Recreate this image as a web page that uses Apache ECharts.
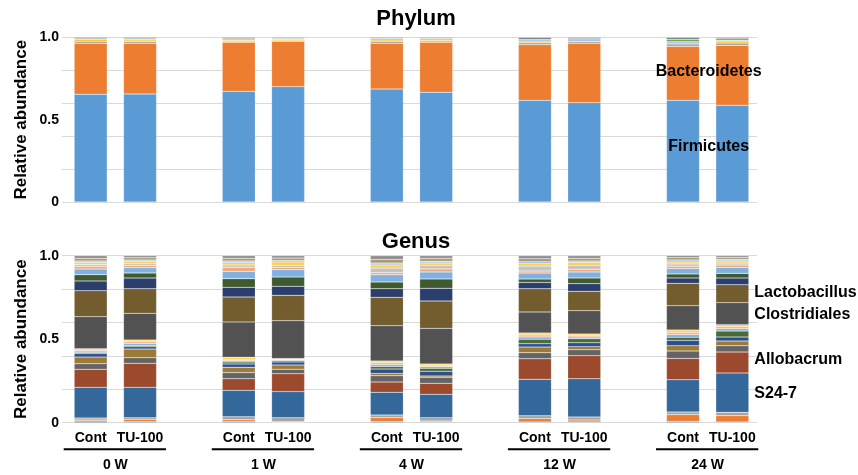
<!DOCTYPE html>
<html><head><meta charset="utf-8">
<script src="https://cdn.jsdelivr.net/npm/echarts@6/dist/echarts.min.js"></script>
<style>html,body{margin:0;padding:0;background:#fff}#c{width:858px;height:475px}</style>
</head><body><div id="c"></div>
<script>
// Categories (gaps between weeks are empty categories)
const barLabels = ['Cont','TU-100','','Cont','TU-100','','Cont','TU-100','','Cont','TU-100','','Cont','TU-100'];
const barSlots = [0,1,3,4,6,7,9,10,12,13];
const weeks = ['0 W','1 W','4 W','12 W','24 W'];
const yTicks = [0, 0.5, 1.0];

// Phylum (bottom -> top), 10 bars: 0W C,T | 1W C,T | 4W C,T | 12W C,T | 24W C,T
const firmicutes     = [0.655,0.657,0.673,0.701,0.687,0.667,0.618,0.604,0.618,0.588];
const bacteroidetes  = [0.310,0.308,0.298,0.276,0.278,0.304,0.338,0.361,0.328,0.364];
const proteobacteria = [0.012,0.010,0.006,0.004,0.012,0.008,0.012,0.010,0.014,0.014];
const tenericutes    = [0.010,0.010,0.006,0.008,0.008,0.006,0.008,0.006,0.008,0.012];
const actinobacteria = [0.004,0.005,0.007,0.003,0.006,0.006,0.008,0.008,0.006,0.004];
const verrucomicrobia= [0.002,0.002,0.003,0.002,0.003,0.003,0.006,0.004,0.016,0.010];
const otherPhyla     = [0.007,0.008,0.007,0.006,0.006,0.006,0.010,0.007,0.010,0.008];

// Genus (bottom -> top)
const gBifido   = [0.010,0.005,0.008,0.003,0.006,0.004,0.004,0.004,0.008,0.004];
const gTuric    = [0.006,0.015,0.010,0.003,0.024,0.006,0.020,0.012,0.040,0.038];
const gRumino   = [0.012,0.010,0.018,0.024,0.016,0.020,0.018,0.018,0.016,0.020];
const gS247     = [0.184,0.182,0.158,0.156,0.136,0.140,0.218,0.229,0.193,0.236];
const gAllobac  = [0.108,0.144,0.069,0.107,0.062,0.066,0.123,0.138,0.128,0.125];
const gLachno   = [0.033,0.033,0.037,0.027,0.037,0.036,0.036,0.036,0.044,0.038];
const gOscill   = [0.040,0.052,0.032,0.026,0.014,0.008,0.034,0.018,0.032,0.028];
const gBacter   = [0.020,0.014,0.020,0.018,0.026,0.028,0.020,0.024,0.032,0.024];
const gCopro    = [0.008,0.008,0.012,0.008,0.016,0.018,0.026,0.024,0.018,0.036];
const gDorea    = [0.008,0.012,0.008,0.004,0.012,0.010,0.014,0.010,0.016,0.014];
const gBlautia  = [0.007,0.010,0.008,0.004,0.010,0.008,0.012,0.009,0.014,0.012];
const gAdler    = [0.007,0.010,0.012,0.004,0.010,0.008,0.012,0.009,0.014,0.012];
const gClostr   = [0.192,0.160,0.211,0.227,0.212,0.213,0.126,0.140,0.146,0.132];
const gLacto    = [0.155,0.147,0.150,0.152,0.170,0.164,0.139,0.116,0.134,0.107];
const gRuminoc  = [0.059,0.064,0.058,0.054,0.051,0.076,0.038,0.046,0.032,0.040];
const gLachnoO  = [0.037,0.030,0.051,0.055,0.040,0.056,0.020,0.034,0.024,0.028];
const gAkker    = [0.034,0.032,0.044,0.044,0.044,0.042,0.036,0.036,0.032,0.036];
const gSutter   = [0.016,0.014,0.024,0.012,0.012,0.018,0.012,0.016,0.014,0.014];
const gParabac  = [0.012,0.012,0.014,0.014,0.028,0.022,0.030,0.024,0.014,0.012];
const gAnaero   = [0.012,0.012,0.014,0.020,0.018,0.014,0.014,0.016,0.012,0.012];
const gDesulfo  = [0.008,0.008,0.010,0.010,0.012,0.010,0.012,0.010,0.012,0.010];
const gPrevo    = [0.016,0.014,0.016,0.014,0.022,0.017,0.018,0.016,0.013,0.012];
const gOthers   = [0.016,0.012,0.016,0.014,0.022,0.016,0.018,0.015,0.012,0.010];

function toSlots(arr){
  const out = barLabels.map(()=> '-');
  barSlots.forEach((s,i)=>{ out[s] = arr[i]; });
  return out;
}

const phylum = [
  ['Firmicutes', firmicutes, '#5B9BD5'],
  ['Bacteroidetes', bacteroidetes, '#ED7D31'],
  ['Proteobacteria', proteobacteria, '#A5A5A5'],
  ['Tenericutes', tenericutes, '#FFC000'],
  ['Actinobacteria', actinobacteria, '#4472C4'],
  ['Verrucomicrobia', verrucomicrobia, '#70AD47'],
  ['Others', otherPhyla, '#6F7783']
];
const genus = [
  ['Bifidobacterium', gBifido, '#5B9BD5'],
  ['Turicibacter', gTuric, '#ED7D31'],
  ['Ruminococcaceae', gRumino, '#A5A5A5'],
  ['S24-7', gS247, '#34679A'],
  ['Allobacrum', gAllobac, '#9C4A2D'],
  ['Lachnospiraceae', gLachno, '#646464'],
  ['Oscillospira', gOscill, '#9C7A38'],
  ['Bacteroides', gBacter, '#2E4E8C'],
  ['Coprococcus', gCopro, '#4A6B34'],
  ['Dorea', gDorea, '#7FB1E0'],
  ['Blautia', gBlautia, '#F4B08A'],
  ['Adlercreutzia', gAdler, '#FFD04D'],
  ['Clostridiales', gClostr, '#525252'],
  ['Lactobacillus', gLacto, '#735C2E'],
  ['Ruminococcus', gRuminoc, '#2C3E6B'],
  ['Lachnospiraceae other', gLachnoO, '#3F5A2F'],
  ['Akkermansia', gAkker, '#7FB2E0'],
  ['Sutterella', gSutter, '#F5A578'],
  ['Parabacteroides', gParabac, '#C4C4C4'],
  ['Anaeroplasma', gAnaero, '#FFCE45'],
  ['Desulfovibrio', gDesulfo, '#9DC3E6'],
  ['Prevotella', gPrevo, '#A8987A'],
  ['Others', gOthers, '#8E8E8E']
];

const F = 'Liberation Sans, Arial, sans-serif';
const series = [];
phylum.forEach(([n,d,c])=>series.push({name:n,type:'bar',stack:'p',xAxisIndex:0,yAxisIndex:0,barWidth:33,
  data:toSlots(d),itemStyle:{color:c,borderColor:'rgba(255,255,255,0.35)',borderWidth:0.5}}));
genus.forEach(([n,d,c])=>series.push({name:n,type:'bar',stack:'g',xAxisIndex:1,yAxisIndex:2,barWidth:33,
  data:toSlots(d),itemStyle:{color:c,borderColor:'rgba(255,255,255,0.35)',borderWidth:0.5}}));

function gridAxis(gi){
  return {type:'value',gridIndex:gi,position:'left',min:0,max:1,interval:0.2,
    axisLabel:{show:false},axisLine:{show:false},
    axisTick:{show:true,length:4,lineStyle:{color:'#d9d9d9'}},
    splitLine:{lineStyle:{color:'#d9d9d9',width:1}},
    name:'Relative abundance',nameLocation:'middle',nameGap:36,
    nameTextStyle:{fontFamily:F,fontWeight:'bold',fontSize:17,color:'#000'}};
}
function labelAxis(gi){
  return {type:'value',gridIndex:gi,position:'left',min:0,max:1,interval:0.5,
    axisLine:{show:false},axisTick:{show:false},splitLine:{show:false},
    axisLabel:{margin:7,fontFamily:F,fontWeight:'bold',fontSize:14,color:'#000',
      formatter:v=> (yTicks.some(t=>Math.abs(t-v)<1e-9) ? (v===0?'0':v.toFixed(1)) : '')}};
}

const chart = echarts.init(document.getElementById('c'),null,{renderer:'canvas'});
chart.setOption({
  animation:false,
  title:[
    {text:'Phylum',left:411,top:3,textAlign:'center',textStyle:{fontFamily:F,fontWeight:'bold',fontSize:22,color:'#000'}},
    {text:'Genus',left:411,top:226,textAlign:'center',textStyle:{fontFamily:F,fontWeight:'bold',fontSize:22,color:'#000'}}
  ],
  grid:[
    {left:66,right:101,top:37.5,height:164.5},
    {left:66,right:101,top:255.7,height:167}
  ],
  xAxis:[
    {type:'category',gridIndex:0,data:barLabels,axisLabel:{show:false},axisTick:{show:false},axisLine:{show:false}},
    {type:'category',gridIndex:1,data:barLabels,axisTick:{show:false},axisLine:{show:false},
      axisLabel:{interval:0,margin:8,fontFamily:F,fontWeight:'bold',fontSize:14,color:'#000'}}
  ],
  yAxis:[gridAxis(0),labelAxis(0),gridAxis(1),labelAxis(1)],
  series:series
});

// Decorations positioned through the library's scales
const g = [];
weeks.forEach((w,i)=>{
  const x1 = chart.convertToPixel({xAxisIndex:1}, barSlots[2*i]);
  const x2 = chart.convertToPixel({xAxisIndex:1}, barSlots[2*i+1]);
  const y0 = chart.convertToPixel({yAxisIndex:2}, 0);
  g.push({type:'line',z:100,shape:{x1:x1-27,y1:y0+26.5,x2:x2+26,y2:y0+26.5},style:{stroke:'#000',lineWidth:2}});
  g.push({type:'text',z:100,x:(x1+x2)/2,y:y0+42,style:{text:w,fontFamily:F,fontWeight:'bold',fontSize:14,fill:'#000',align:'center',verticalAlign:'middle'}});
});
const gx = (chart.convertToPixel({xAxisIndex:0}, barSlots[8]) + chart.convertToPixel({xAxisIndex:0}, barSlots[9]))/2;
[['Bacteroidetes',0.795],['Firmicutes',0.335]].forEach(([t,v])=>{
  g.push({type:'text',z:100,x:gx+1,y:chart.convertToPixel({yAxisIndex:0}, v),style:{text:t,fontFamily:F,fontWeight:'bold',fontSize:16,fill:'#000',align:'center',verticalAlign:'middle'}});
});
const rx = chart.convertToPixel({xAxisIndex:1}, barSlots[9]) + 22;
[['Lactobacillus',0.781],['Clostridiales',0.649],['Allobacrum',0.379],['S24-7',0.175]].forEach(([t,v])=>{
  g.push({type:'text',z:100,x:rx,y:chart.convertToPixel({yAxisIndex:2}, v),style:{text:t,fontFamily:F,fontWeight:'bold',fontSize:16,fill:'#000',align:'left',verticalAlign:'middle'}});
});
chart.setOption({graphic:g});
</script></body></html>
